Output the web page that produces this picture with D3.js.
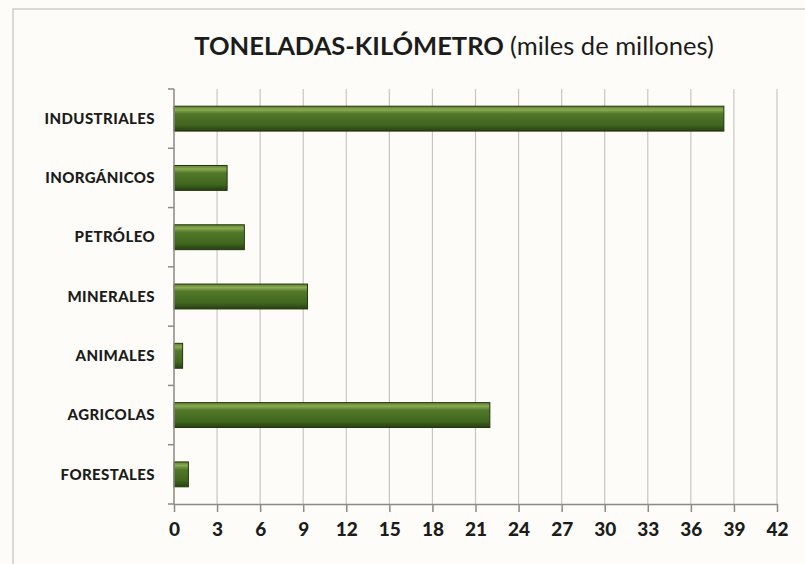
<!DOCTYPE html>
<html>
<head>
<meta charset="utf-8">
<script src="https://cdn.jsdelivr.net/npm/d3@7"></script>
<style>
  body { margin: 0; background: #fdfcf8; }
  svg { display: block; }
</style>
</head>
<body>
<div id="chart"></div>
<script>
// chart values
const categories = ["INDUSTRIALES", "INORGÁNICOS", "PETRÓLEO", "MINERALES", "ANIMALES", "AGRICOLAS", "FORESTALES"];
const values = [38.3, 3.7, 4.9, 9.3, 0.6, 22.0, 1.0];
const xTicks = [0, 3, 6, 9, 12, 15, 18, 21, 24, 27, 30, 33, 36, 39, 42];

const width = 805, height = 564;
const margin = {top: 89, right: 28, bottom: 60, left: 174};

const svg = d3.select("#chart")
    .append("svg")
    .attr("width", width)
    .attr("height", height);

// bar gradient (bevelled look)
const defs = svg.append("defs");
const grad = defs.append("linearGradient")
    .attr("id", "barGrad")
    .attr("x1", 0).attr("y1", 0).attr("x2", 0).attr("y2", 1);
grad.append("stop").attr("offset", "0%").attr("stop-color", "#5d7c30");
grad.append("stop").attr("offset", "14%").attr("stop-color", "#8aab52");
grad.append("stop").attr("offset", "30%").attr("stop-color", "#52782a");
grad.append("stop").attr("offset", "75%").attr("stop-color", "#41671f");
grad.append("stop").attr("offset", "100%").attr("stop-color", "#263f12");

// outer frame
svg.append("path")
    .attr("d", `M13,${height} L13,9 L${width},9`)
    .attr("fill", "none")
    .attr("stroke", "#cfccc6")
    .attr("stroke-width", 1.5);

let xScale = d3.scaleLinear()
    .domain([0, 42])
    .range([margin.left, width - margin.right]);

let yScale = d3.scaleBand()
    .domain(categories)
    .range([margin.top, height - margin.bottom])
    .paddingInner(0.58)
    .paddingOuter(0.29);

// vertical grid lines
svg.append("g")
    .selectAll("line")
    .data(xTicks.slice(1))
    .enter()
    .append("line")
    .attr("x1", d => xScale(d))
    .attr("x2", d => xScale(d))
    .attr("y1", margin.top)
    .attr("y2", height - margin.bottom)
    .attr("stroke", "#c9c6c0")
    .attr("stroke-width", 1.2);

// bars
svg.selectAll("rect.bar")
    .data(values)
    .enter()
    .append("rect")
    .attr("class", "bar")
    .attr("x", xScale(0))
    .attr("y", (d, i) => yScale(categories[i]))
    .attr("width", d => xScale(d) - xScale(0))
    .attr("height", yScale.bandwidth())
    .attr("fill", "url(#barGrad)")
    .attr("stroke", "#24350f")
    .attr("stroke-width", 1);

// x axis
const xAxis = svg.append("g")
    .attr("transform", `translate(0,${height - margin.bottom})`)
    .call(d3.axisBottom(xScale).tickValues(xTicks).tickSize(8).tickSizeOuter(0));
xAxis.select(".domain").attr("stroke", "#8d8a85").attr("stroke-width", 1.5);
xAxis.selectAll(".tick line").attr("stroke", "#8d8a85").attr("stroke-width", 1.5);
xAxis.selectAll(".tick text")
    .attr("y", 19)
    .attr("font-family", "Lato, 'Open Sans', sans-serif")
    .attr("font-weight", "900")
    .attr("font-size", "19px")
    .attr("fill", "#1c1c1c");

// y axis: ticks between categories
const boundaries = d3.range(categories.length + 1).map(i => margin.top + i * (height - margin.bottom - margin.top) / categories.length);
svg.append("line")
    .attr("x1", xScale(0)).attr("x2", xScale(0))
    .attr("y1", margin.top).attr("y2", height - margin.bottom)
    .attr("stroke", "#8d8a85").attr("stroke-width", 1.5);
svg.append("g")
    .selectAll("line")
    .data(boundaries)
    .enter()
    .append("line")
    .attr("x1", xScale(0) - 6).attr("x2", xScale(0))
    .attr("y1", d => d).attr("y2", d => d)
    .attr("stroke", "#8d8a85").attr("stroke-width", 1.5);

svg.append("g")
    .selectAll("text")
    .data(categories)
    .enter()
    .append("text")
    .attr("x", 155)
    .attr("y", d => yScale(d) + yScale.bandwidth() / 2)
    .attr("dy", "0.35em")
    .attr("text-anchor", "end")
    .attr("font-family", "Lato, 'Open Sans', sans-serif")
    .attr("font-weight", "900")
    .attr("font-size", "15px")
    .attr("letter-spacing", "0.4px")
    .attr("fill", "#1c1c1c")
    .text(d => d);

// title
const title = svg.append("text")
    .attr("x", 454)
    .attr("y", 55)
    .attr("text-anchor", "middle")
    .attr("font-family", "Lato, 'Open Sans', sans-serif")
    .attr("font-size", "25.5px")
    .attr("fill", "#1c1c1c");
title.append("tspan").attr("font-weight", "bold").text("TONELADAS-KILÓMETRO ");
title.append("tspan").text("(miles de millones)");
</script>
</body>
</html>
